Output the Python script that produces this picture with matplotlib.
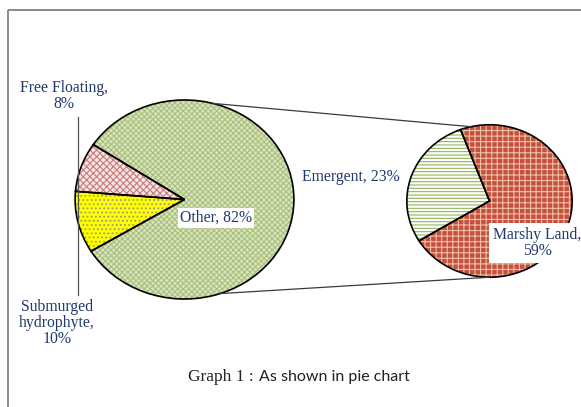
import numpy as np
import matplotlib
matplotlib.use('Agg')
import matplotlib.pyplot as plt
from matplotlib.patches import ConnectionPatch

# data
main_labels = ['Other', 'Free Floating', 'Submurged\nhydrophyte']
main_values = [82, 8, 10]
sub_labels = ['Emergent', 'Marshy Land']
sub_values = [23, 59]

main_colors = ['#d9e4bf', '#f7e4e4', '#ffff00']
main_hatch_colors = ['#a9c07c', '#c97c7a', '#9a9a70']
main_hatches = ['xxxxxx', 'xxxxx', '....']
sub_colors = ['#ffffff', '#c4503f']
sub_hatch_colors = ['#92b456', '#f0c0a4']
sub_hatches = ['-----', '+++']

plt.rcParams['hatch.linewidth'] = 0.8
label_color = '#213a6e'
serif = ['Liberation Serif', 'DejaVu Serif']

W, H = 581, 407
fig = plt.figure(figsize=(W / 100, H / 100), dpi=100)


def px_axes(x0, y0, x1, y1):
    return fig.add_axes([x0 / W, 1 - y1 / H, (x1 - x0) / W, (y1 - y0) / H])


def draw_pie(a, values, colors, hcolors, hatches, start):
    wedges, _ = a.pie(values, colors=colors, startangle=start,
                      wedgeprops=dict(linewidth=0))
    for w, hc, h in zip(wedges, hcolors, hatches):
        w.set_hatch(h)
        w.set_edgecolor(hc)
    # black outline on top
    a.pie(values, startangle=start,
          wedgeprops=dict(fill=False, edgecolor='black', linewidth=1.2))
    a.set_aspect('auto')
    a.set_xlim(-1.01, 1.01)
    a.set_ylim(-1.01, 1.01)
    return wedges


ax1 = px_axes(74, 99, 295, 300)
ax2 = px_axes(406, 124, 573, 278)
draw_pie(ax1, main_values, main_colors, main_hatch_colors, main_hatches, 211.3)
draw_pie(ax2, sub_values, sub_colors, sub_hatch_colors, sub_hatches, 110.5)

# overlay axes in pixel coordinates for text and lines
ax = fig.add_axes([0, 0, 1, 1])
ax.set_xlim(0, W)
ax.set_ylim(H, 0)
ax.axis('off')
ax.set_zorder(5)


def pt(deg):
    r = np.deg2rad(deg)
    return (np.cos(r), np.sin(r))


for a_deg, b_deg in [(75, 103), (-71, -90)]:
    con = ConnectionPatch(xyA=pt(a_deg), coordsA=ax1.transData,
                          xyB=pt(b_deg), coordsB=ax2.transData,
                          color='#3a3a3a', linewidth=0.9)
    fig.add_artist(con)

# leader line on the left
ax.plot([78, 78], [117, 295], color='#555555', linewidth=0.9)

# labels
ax.text(64, 96, f'{main_labels[1]},\n{main_values[1]}%', ha='center', va='center',
        color=label_color, fontsize=11.3, family=serif, linespacing=1.0)
ax.text(57, 323, f'{main_labels[2]},\n{main_values[2]}%', ha='center', va='center',
        color=label_color, fontsize=11.3, family=serif, linespacing=1.0)
ax.text(216, 218, f'{main_labels[0]}, {main_values[0]}%', ha='center', va='center',
        color=label_color, fontsize=11.3, family=serif,
        bbox=dict(facecolor='white', edgecolor='none', pad=1.5))
ax.text(351, 177, f'{sub_labels[0]}, {sub_values[0]}%', ha='center', va='center',
        color=label_color, fontsize=11.3, family=serif)
ax.text(537, 243, f'{sub_labels[1]},\n{sub_values[1]}%', ha='center', va='center',
        color=label_color, fontsize=11.3, family=serif, linespacing=1.0,
        bbox=dict(facecolor='white', edgecolor='none', pad=3))

# caption
ax.text(254, 377, 'Graph 1 :', ha='right', va='center', color='#222222',
        fontsize=12.5, family=serif)
ax.text(259, 377, 'As shown in pie chart', ha='left', va='center', color='#222222',
        fontsize=11.5, family=['Lato', 'DejaVu Sans'])

# frame
ax.plot([8, W], [10, 10], color='#8a8a8a', linewidth=1.4, solid_capstyle='butt')
ax.plot([8, 8], [10, H], color='#8a8a8a', linewidth=1.4, solid_capstyle='butt')

fig.savefig('out.png', dpi=100)
